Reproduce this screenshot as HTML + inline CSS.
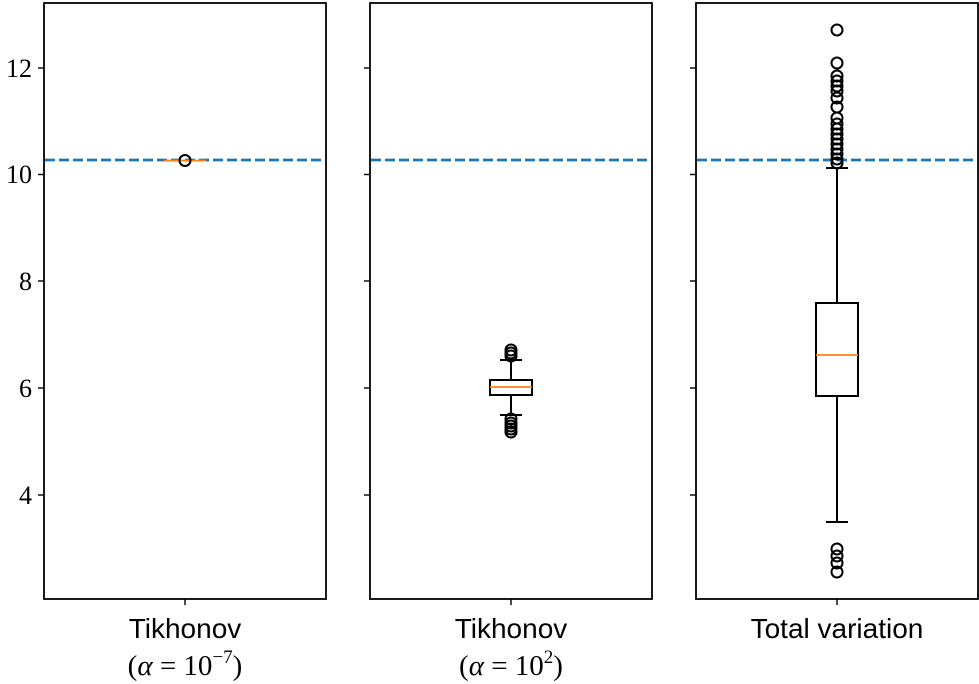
<!DOCTYPE html>
<html><head><style>body{margin:0;background:#fff}svg{display:block}</style></head><body>
<svg width="979" height="684" xmlns="http://www.w3.org/2000/svg" font-family="Liberation Serif, serif">
<g fill="none" stroke="#000" stroke-width="1.8">
<rect x="44" y="3" width="282" height="596"/>
<rect x="370" y="3" width="282" height="596"/>
<rect x="696" y="3" width="282" height="596"/>
</g>
<g stroke="#000" stroke-width="1.4">
<line x1="38" x2="44" y1="68" y2="68"/><line x1="38" x2="44" y1="174.5" y2="174.5"/><line x1="38" x2="44" y1="281" y2="281"/><line x1="38" x2="44" y1="388" y2="388"/><line x1="38" x2="44" y1="495" y2="495"/>
<line x1="364" x2="370" y1="68" y2="68"/><line x1="364" x2="370" y1="174.5" y2="174.5"/><line x1="364" x2="370" y1="281" y2="281"/><line x1="364" x2="370" y1="388" y2="388"/><line x1="364" x2="370" y1="495" y2="495"/>
<line x1="690" x2="696" y1="68" y2="68"/><line x1="690" x2="696" y1="174.5" y2="174.5"/><line x1="690" x2="696" y1="281" y2="281"/><line x1="690" x2="696" y1="388" y2="388"/><line x1="690" x2="696" y1="495" y2="495"/>
<line x1="185" x2="185" y1="599" y2="605"/><line x1="511" x2="511" y1="599" y2="605"/><line x1="837" x2="837" y1="599" y2="605"/>
</g>
<g font-size="26" text-anchor="end">
<text x="32" y="77">12</text><text x="32" y="183">10</text><text x="32" y="290">8</text><text x="32" y="397">6</text><text x="32" y="504">4</text>
</g>
<g font-family="Liberation Sans, sans-serif" font-size="28" text-anchor="middle">
<text x="185" y="638">Tikhonov</text><text x="511" y="638">Tikhonov</text><text x="837" y="638">Total variation</text>
</g>
<g font-size="29" text-anchor="middle">
<text x="185" y="675">(<tspan font-style="italic">α</tspan> = 10<tspan font-size="19" dy="-12">−7</tspan><tspan dy="12">)</tspan></text>
<text x="511" y="675">(<tspan font-style="italic">α</tspan> = 10<tspan font-size="19" dy="-12">2</tspan><tspan dy="12">)</tspan></text>
</g>
<g stroke="#1f77b4" stroke-width="2.8" stroke-dasharray="10,4">
<line x1="45" x2="325" y1="160" y2="160"/><line x1="371" x2="651" y1="160" y2="160"/><line x1="697" x2="977" y1="160" y2="160"/>
</g>
<line x1="164" x2="206" y1="160.5" y2="160.5" stroke="#ff7f0e" stroke-width="1.8"/>
<circle cx="185" cy="160.5" r="5.5" fill="none" stroke="#000" stroke-width="2"/>
<g stroke="#000" stroke-width="2" fill="none">
<line x1="511" x2="511" y1="360" y2="380"/><line x1="511" x2="511" y1="395" y2="415"/>
<line x1="500" x2="522" y1="360" y2="360"/><line x1="500" x2="522" y1="415" y2="415"/>
<rect x="490" y="380" width="42" height="15"/>
<circle cx="511" cy="350" r="5.5"/><circle cx="511" cy="353" r="5.5"/><circle cx="511" cy="356" r="5.5"/>
<circle cx="511" cy="419" r="5.5"/><circle cx="511" cy="423" r="5.5"/><circle cx="511" cy="426" r="5.5"/><circle cx="511" cy="429" r="5.5"/><circle cx="511" cy="432" r="5.5"/>
</g>
<line x1="490" x2="532" y1="387" y2="387" stroke="#ff7f0e" stroke-width="1.8"/>
<g stroke="#000" stroke-width="2" fill="none">
<line x1="837" x2="837" y1="168" y2="303"/><line x1="837" x2="837" y1="396" y2="522"/>
<line x1="826" x2="848" y1="168" y2="168"/><line x1="826" x2="848" y1="522" y2="522"/>
<rect x="816" y="303" width="42" height="93"/>
<circle cx="837" cy="30" r="5.5"/><circle cx="837" cy="63" r="5.5"/><circle cx="837" cy="76" r="5.5"/><circle cx="837" cy="81" r="5.5"/><circle cx="837" cy="86" r="5.5"/><circle cx="837" cy="91" r="5.5"/><circle cx="837" cy="98" r="5.5"/><circle cx="837" cy="107" r="5.5"/>
<circle cx="837" cy="118" r="5.5"/><circle cx="837" cy="124" r="5.5"/><circle cx="837" cy="129" r="5.5"/><circle cx="837" cy="134" r="5.5"/><circle cx="837" cy="139" r="5.5"/><circle cx="837" cy="144" r="5.5"/><circle cx="837" cy="149" r="5.5"/><circle cx="837" cy="154" r="5.5"/><circle cx="837" cy="159" r="5.5"/><circle cx="837" cy="163" r="5.5"/>
<circle cx="837" cy="549" r="5.5"/><circle cx="837" cy="556" r="5.5"/><circle cx="837" cy="563" r="5.5"/><circle cx="837" cy="572" r="5.5"/>
</g>
<line x1="816" x2="858" y1="355" y2="355" stroke="#ff7f0e" stroke-width="1.8"/>
</svg>
</body></html>
